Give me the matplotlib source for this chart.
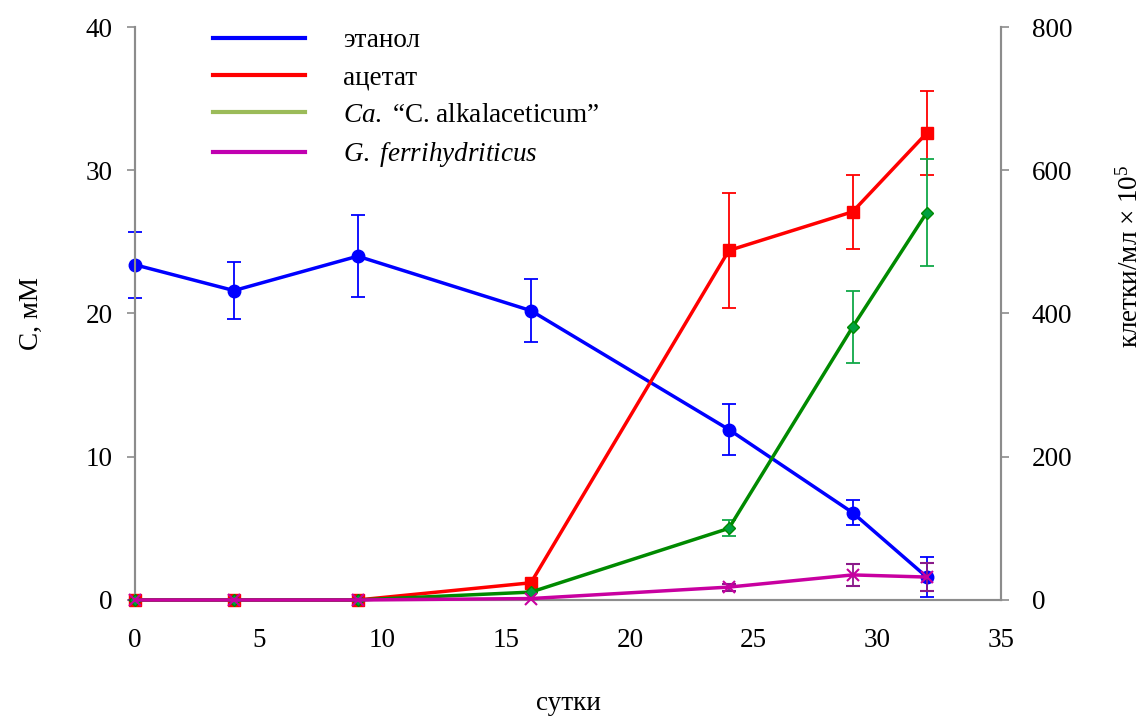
import numpy as np
import matplotlib
matplotlib.use('Agg')
import matplotlib.pyplot as plt
from matplotlib.lines import Line2D

plt.rcParams['font.family'] = ['Liberation Serif', 'DejaVu Serif']
plt.rcParams['mathtext.fontset'] = 'custom'
plt.rcParams['mathtext.rm'] = 'Liberation Serif'
plt.rcParams['mathtext.it'] = 'Liberation Serif:italic'

# days of cultivation
days = [0, 4, 9, 16, 24, 29, 32]

# substrate / product, mM (left axis)
ethanol = [23.4, 21.6, 24.0, 20.2, 11.9, 6.1, 1.6]
ethanol_err = [2.3, 2.0, 2.85, 2.2, 1.75, 0.9, 1.4]
acetate = [0, 0, 0, 1.2, 24.4, 27.1, 32.6]
acetate_err = [0, 0, 0, 0, 4.0, 2.6, 2.9]

# cell counts, cells/ml x 10^5 (right axis)
alkalaceticum = [0, 0, 0, 11, 100, 381, 541]
alkalaceticum_err = [0, 0, 0, 0, 11, 50, 75]
ferrihydriticus = [0, 0, 0, 2, 18, 35, 32]
ferrihydriticus_err = [0, 0, 0, 0, 5, 15, 19]

labels = ['этанол', 'ацетат', r'$\it{Ca.}$ “C. alkalaceticum”', r'$\it{G.\ ferrihydriticus}$']

fig = plt.figure(figsize=(11.46, 7.22), dpi=100)
ax = fig.add_axes([0.1178, 0.169, 0.8735 - 0.1178, 0.9626 - 0.169])
ax2 = ax.twinx()

fs = 19.5
lw = 2.5

ax.errorbar(days, ethanol, yerr=ethanol_err, color='#0000ff', lw=lw, marker='o', ms=9,
            ecolor='#0000ff', elinewidth=1.3, capsize=5, capthick=1.3, clip_on=False, zorder=3)
ax.errorbar(days, acetate, yerr=acetate_err, color='#ff0000', lw=lw, marker='s', ms=9,
            ecolor='#ff0000', elinewidth=1.3, capsize=5, capthick=1.3, clip_on=False, zorder=3)

ax2.errorbar(days, alkalaceticum, yerr=alkalaceticum_err, color='#008a00', lw=lw, marker='D', ms=6.5,
             mfc='#00a040', mec='#008a00', ecolor='#10a848', elinewidth=1.3, capsize=5, capthick=1.3,
             clip_on=False, zorder=3)
ax2.errorbar(days, ferrihydriticus, yerr=ferrihydriticus_err, color='#c800a0', lw=lw, marker='x', ms=9,
             mew=1.5, ecolor='#8a1a8a', elinewidth=1.3, capsize=5, capthick=1.3, clip_on=False, zorder=3)

ax.set_xlim(0, 35)
ax.set_ylim(0, 40)
ax2.set_ylim(0, 800)
ax.set_xticks(range(0, 36, 5))
ax.set_yticks(range(0, 41, 10))
ax2.set_yticks(range(0, 801, 200))

for a in (ax, ax2):
    a.spines['top'].set_visible(False)
    for s in ('left', 'right', 'bottom'):
        a.spines[s].set_color('#8c8c8c')
        a.spines[s].set_linewidth(1.5)
    a.tick_params(colors='#8c8c8c', labelcolor='black', labelsize=fs, width=1.2, length=6)
ax.tick_params(axis='x', length=0, pad=20)
ax.tick_params(axis='y', pad=10)
ax2.tick_params(axis='y', pad=16)

ax.set_xlabel('сутки', fontsize=fs)
ax.xaxis.set_label_coords(0.5, -0.158)
ax.set_ylabel('C, мМ', fontsize=fs)
ax.yaxis.set_label_coords(-0.105, 0.5)
ax2.set_ylabel('клетки/мл × 10$^5$', fontsize=fs)
ax2.yaxis.set_label_coords(1.134, 0.6)

handles = [Line2D([], [], color=c, lw=3) for c in ('#0000ff', '#ff0000', '#9bbb59', '#c000b0')]
ax.legend(handles, labels, loc='upper left', bbox_to_anchor=(0.062, 1.04), frameon=False,
          fontsize=fs, handlelength=3.4, handletextpad=1.4, labelspacing=0.45)

fig.savefig('out.png', dpi=100)
